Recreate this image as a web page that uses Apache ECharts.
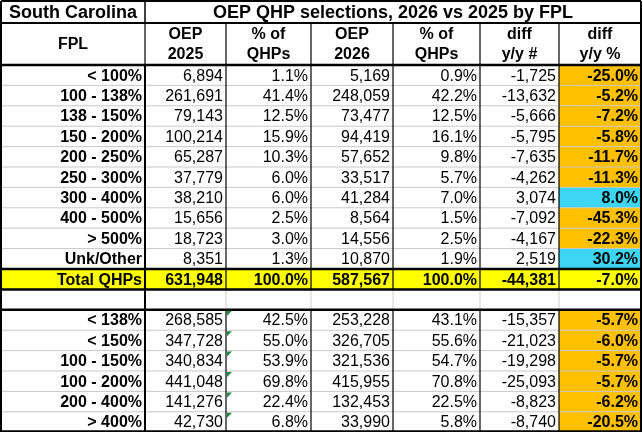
<!DOCTYPE html>
<html><head><meta charset="utf-8">
<script src="https://cdn.jsdelivr.net/npm/echarts@6/dist/echarts.min.js"></script>
<style>html,body{margin:0;padding:0;background:#fff}#main{width:643px;height:432px}</style>
</head><body><div id="main"></div>
<script>
// table data
var headers = ['FPL', 'OEP\n2025', '% of\nQHPs', 'OEP\n2026', '% of\nQHPs', 'diff\ny/y #', 'diff\ny/y %']
var fplTop = ['< 100%', '100 - 138%', '138 - 150%', '150 - 200%', '200 - 250%', '250 - 300%', '300 - 400%', '400 - 500%', '> 500%', 'Unk/Other', 'Total QHPs']
var oep2025Top = ['6,894', '261,691', '79,143', '100,214', '65,287', '37,779', '38,210', '15,656', '18,723', '8,351', '631,948']
var pct2025Top = ['1.1%', '41.4%', '12.5%', '15.9%', '10.3%', '6.0%', '6.0%', '2.5%', '3.0%', '1.3%', '100.0%']
var oep2026Top = ['5,169', '248,059', '73,477', '94,419', '57,652', '33,517', '41,284', '8,564', '14,556', '10,870', '587,567']
var pct2026Top = ['0.9%', '42.2%', '12.5%', '16.1%', '9.8%', '5.7%', '7.0%', '1.5%', '2.5%', '1.9%', '100.0%']
var diffTop = ['-1,725', '-13,632', '-5,666', '-5,795', '-7,635', '-4,262', '3,074', '-7,092', '-4,167', '2,519', '-44,381']
var diffPctTop = ['-25.0%', '-5.2%', '-7.2%', '-5.8%', '-11.7%', '-11.3%', '8.0%', '-45.3%', '-22.3%', '30.2%', '-7.0%']

var fplBot = ['< 138%', '< 150%', '100 - 150%', '100 - 200%', '200 - 400%', '> 400%']
var oep2025Bot = ['268,585', '347,728', '340,834', '441,048', '141,276', '42,730']
var pct2025Bot = ['42.5%', '55.0%', '53.9%', '69.8%', '22.4%', '6.8%']
var oep2026Bot = ['253,228', '326,705', '321,536', '415,955', '132,453', '33,990']
var pct2026Bot = ['43.1%', '55.6%', '54.7%', '70.8%', '22.5%', '5.8%']
var diffBot = ['-15,357', '-21,023', '-19,298', '-25,093', '-8,823', '-8,740']
var diffPctBot = ['-5.7%', '-6.0%', '-5.7%', '-5.7%', '-6.2%', '-20.5%']

var colX = [1, 145, 226, 311, 393, 480, 559, 641]
var titleTop = 1, titleBot = 23, headBot = 65, rowH = 20.4
var font = '"Liberation Sans Narrow", "Liberation Sans", Arial, sans-serif'
var g = []

function rect(x, y, w, h, fill) {
  g.push({ type: 'rect', shape: { x: x, y: y, width: w, height: h }, style: { fill: fill }, silent: true })
}
function line(x1, y1, x2, y2, color, w) {
  g.push({ type: 'line', shape: { x1: x1, y1: y1, x2: x2, y2: y2 }, style: { stroke: color, lineWidth: w }, z: 10, silent: true })
}
function text(str, x, y, align, bold, size) {
  g.push({ type: 'text', x: x, y: y, z: 20, style: { text: str, fill: '#000', font: (bold ? 'bold ' : '') + (size || 16) + 'px ' + font, align: align, verticalAlign: 'middle', lineHeight: 20 }, silent: true })
}
function pctColor(v) {
  return parseFloat(v) < 0 ? '#FFC000' : '#3DD5F3'
}

function drawRows(y0, fpl, c1, c2, c3, c4, c5, c6, totalIdx, ticks) {
  for (var i = 0; i < fpl.length; i++) {
    var y = y0 + i * rowH, cy = y + rowH / 2 + 1
    var isTotal = i === totalIdx
    if (isTotal) rect(colX[0], y, colX[7] - colX[0], rowH, '#FFFF00')
    else rect(colX[6], y, colX[7] - colX[6], rowH, pctColor(c6[i]))
    var vals = [fpl[i], c1[i], c2[i], c3[i], c4[i], c5[i], c6[i]]
    for (var c = 0; c < 7; c++) {
      text(vals[c], colX[c + 1] - 3, cy, 'right', isTotal || c === 0 || c === 6)
    }
    if (ticks) g.push({ type: 'polygon', shape: { points: [[colX[2] + 1, y + 1], [colX[2] + 6, y + 1], [colX[2] + 1, y + 6]] }, style: { fill: '#1E8A3C' }, z: 15, silent: true })
    if (i > 0) line(colX[0], y, colX[7], y, isTotal ? '#000' : '#c8c8c8', isTotal ? 2.5 : 1)
  }
  var yEnd = y0 + fpl.length * rowH
  for (var c = 1; c < 7; c++) line(colX[c], y0, colX[c], yEnd, '#000', 1.2)
  return yEnd
}

// title and header
text('South Carolina', (colX[0] + colX[1]) / 2, (titleTop + titleBot) / 2 + 1, 'center', true, 18)
text('OEP QHP selections, 2026 vs 2025 by FPL', (colX[1] + colX[7]) / 2, (titleTop + titleBot) / 2 + 1, 'center', true, 18)
for (var c = 0; c < 7; c++) {
  text(headers[c], (colX[c] + colX[c + 1]) / 2, (titleBot + headBot) / 2 + 1, 'center', true, 16)
  if (c > 0) line(colX[c], titleBot, colX[c], headBot, '#000', 1.2)
}
line(colX[1], titleTop, colX[1], titleBot, '#000', 1.5)

var topEnd = drawRows(headBot, fplTop, oep2025Top, pct2025Top, oep2026Top, pct2026Top, diffTop, diffPctTop, 10, false)
var blankEnd = topEnd + rowH
for (var c = 1; c < 7; c++) line(colX[c], topEnd, colX[c], blankEnd, '#d0d0d0', 1)
var botEnd = drawRows(blankEnd, fplBot, oep2025Bot, pct2025Bot, oep2026Bot, pct2026Bot, diffBot, diffPctBot, -1, true)

// heavy borders
line(colX[0], titleTop, colX[7], titleTop, '#000', 2)
line(colX[0], titleBot, colX[7], titleBot, '#000', 2)
line(colX[0], headBot, colX[7], headBot, '#000', 2.5)
line(colX[0], topEnd, colX[7], topEnd, '#000', 2.5)
line(colX[0], blankEnd, colX[7], blankEnd, '#000', 2.5)
line(colX[0], botEnd - 1, colX[7], botEnd - 1, '#000', 2)
line(colX[0], titleTop, colX[0], botEnd, '#000', 2)
line(colX[7], titleTop, colX[7], botEnd, '#000', 2)
line(colX[1], headBot, colX[1], botEnd, '#000', 2)

var chart = echarts.init(document.getElementById('main'))
chart.setOption({ animation: false, graphic: g })
</script></body></html>
